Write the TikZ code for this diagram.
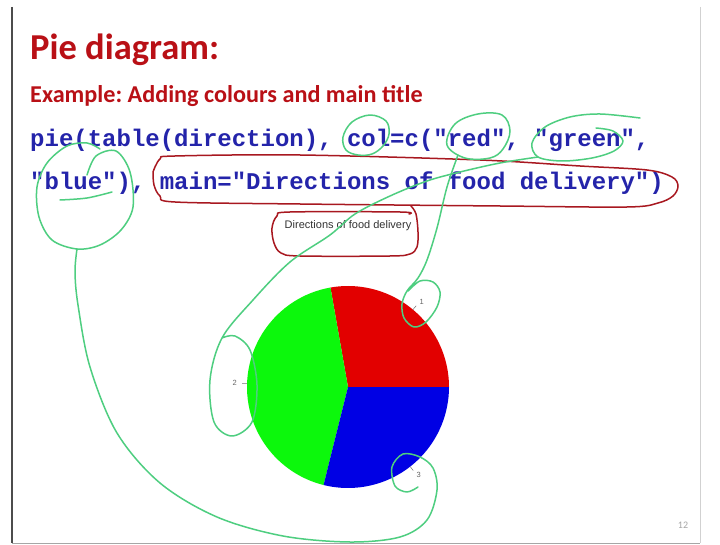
\documentclass[tikz,border=0pt]{standalone}
\usepackage{fontspec}
\usetikzlibrary{calc}
\setmainfont{Carlito}
\newfontfamily\codefont{Liberation Mono}
\newfontfamily\chartfont{Liberation Sans}
\definecolor{headred}{RGB}{185,16,22}
\definecolor{codeblue}{RGB}{36,36,170}
\definecolor{piered}{RGB}{226,0,0}
\definecolor{piegreen}{RGB}{12,248,12}
\definecolor{pieblue}{RGB}{0,0,228}
\definecolor{inkgreen}{RGB}{78,206,128}
\definecolor{inkred}{RGB}{168,24,32}
\tikzset{
  heading/.style={anchor=base west, inner sep=0pt, text=headred, font=\bfseries},
  codeline/.style={anchor=base west, inner sep=0pt, text=codeblue, font=\codefont\bfseries\fontsize{24}{28}\selectfont},
  slicelabel/.style={inner sep=0pt, text=black!60, font=\chartfont\fontsize{7.5}{8}\selectfont},
  tickline/.style={draw=black!55, line width=0.5pt},
  greenink/.style={draw=inkgreen, line width=1.5pt, line cap=round, line join=round},
  redink/.style={draw=inkred, line width=1.5pt, line cap=round, line join=round},
}
\begin{document}
\frenchspacing
\begin{tikzpicture}[x=1pt,y=1pt]
\path[use as bounding box, fill=white] (0,0) rectangle (720,-545);

% slide frame
\draw[black!18, line width=0.8pt] (700,-7) -- (700,-543);
\draw[black!35, line width=1pt] (12,-543) -- (700,-543);
\draw[black!70, line width=1.2pt] (12,-7) -- (12,-543);

% headings
\node[heading, font=\bfseries\fontsize{36.5}{42}\selectfont] (title) at (30,-60) {Pie diagram:};
\node[heading, font=\bfseries\fontsize{24.2}{28}\selectfont] (sub) at (30,-103) {Example: Adding colours and main title};

% R code
\node[codeline] (code1) at (30,-147) {pie(table(direction), col=c("red", "green",};
\node[codeline] (code2) at (30,-190) {"blue"), main="Directions of food delivery")};

% pie chart
\coordinate (pc) at (348,-387);
\fill[piered]   (pc) -- ++(0:101)   arc[start angle=0,   end angle=100, radius=101] -- cycle;
\fill[piegreen] (pc) -- ++(100:101) arc[start angle=100, end angle=256, radius=101] -- cycle;
\fill[pieblue]  (pc) -- ++(256:101) arc[start angle=256, end angle=360, radius=101] -- cycle;

\node[inner sep=0pt, text=black!80, font=\chartfont\fontsize{11}{13}\selectfont] (main) at (348,-226) {Directions of food delivery};

\draw[tickline] ($(pc)+(50:101)$) -- ($(pc)+(50:106)$);
\draw[tickline] ($(pc)+(178:101)$) -- ($(pc)+(178:106)$);
\draw[tickline] ($(pc)+(308:101)$) -- ($(pc)+(308:106)$);
\node[slicelabel, anchor=west] (l1) at ($(pc)+(50:111)$) {1};
\node[slicelabel, anchor=east] (l2) at ($(pc)+(178:111)$) {2};
\node[slicelabel, anchor=west] (l3) at ($(pc)+(308:111)$) {3};

% page number
\node[inner sep=0pt, text=black!35, font=\fontsize{10}{12}\selectfont] (pageno) at (683,-525) {12};

% red pen marks
\draw[redink] plot[smooth, tension=0.55] coordinates {(153,-172) (160,-159) (175,-156) (300,-155) (480,-160) (580,-166) (647,-170) (672,-177) (678,-186) (673,-196) (658,-203) (627,-207) (500,-206) (300,-204) (175,-202) (160,-196) (154,-185) (153,-172)};
\draw[redink] plot[smooth, tension=0.55] coordinates {(411,-206) (416,-214) (418,-232) (417,-247) (410,-254) (390,-256) (300,-256) (281,-253) (274,-243) (272,-228) (277,-216) (290,-212) (400,-212) (409,-214)};

% green pen marks
% col
\draw[greenink] plot[smooth cycle, tension=0.6] coordinates {(343,-137) (352,-122) (370,-115) (386,-121) (389,-134) (383,-146) (372,-154) (358,-155) (346,-150)};
% "red" loop running down to label 1
\draw[greenink] plot[smooth cycle, tension=0.6] coordinates {(447,-145) (455,-124) (478,-114) (502,-115) (510,-131) (503,-149) (490,-158) (465,-158)};
\draw[greenink] plot[smooth, tension=0.55] coordinates {(458,-155) (447,-187) (437,-228) (427,-260) (418,-278) (407,-291) (402,-304) (404,-318) (414,-327) (426,-322) (437,-307) (440,-292) (433,-282) (420,-281) (408,-291)};
% "green" loop running down to label 2
\draw[greenink] plot[smooth, tension=0.55] coordinates {(640,-118) (600,-114) (570,-117) (545,-127) (532,-143) (538,-157) (562,-161) (592,-158) (614,-151) (623,-141) (613,-131) (596,-128)};
\draw[greenink] plot[smooth, tension=0.55] coordinates {(538,-157) (500,-163) (460,-172) (427,-181) (390,-196) (355,-214) (330,-235) (290,-262) (253,-300) (222,-338) (210,-380) (214,-422) (232,-436) (252,-422) (257,-385) (250,-350) (235,-336) (222,-338)};
% "blue" loop with the long curve round to label 3
\draw[greenink] plot[smooth, tension=0.55] coordinates {(87,-175) (96,-156) (116,-151) (130,-172) (133,-207) (121,-230) (100,-245) (77,-249) (52,-240) (39,-217) (37,-187) (47,-163) (67,-146) (87,-143) (100,-149)};
\draw[greenink] plot[smooth, tension=0.55] coordinates {(60,-200) (87,-198) (112,-192)};
\draw[greenink] plot[smooth, tension=0.55] coordinates {(77,-249) (75,-272) (78,-305) (90,-367) (117,-433) (160,-483) (217,-517) (283,-536) (350,-542) (400,-537) (427,-520) (437,-490) (433,-468) (420,-457) (403,-454) (392,-467) (395,-486) (407,-492) (418,-487)};
\end{tikzpicture}
\end{document}
